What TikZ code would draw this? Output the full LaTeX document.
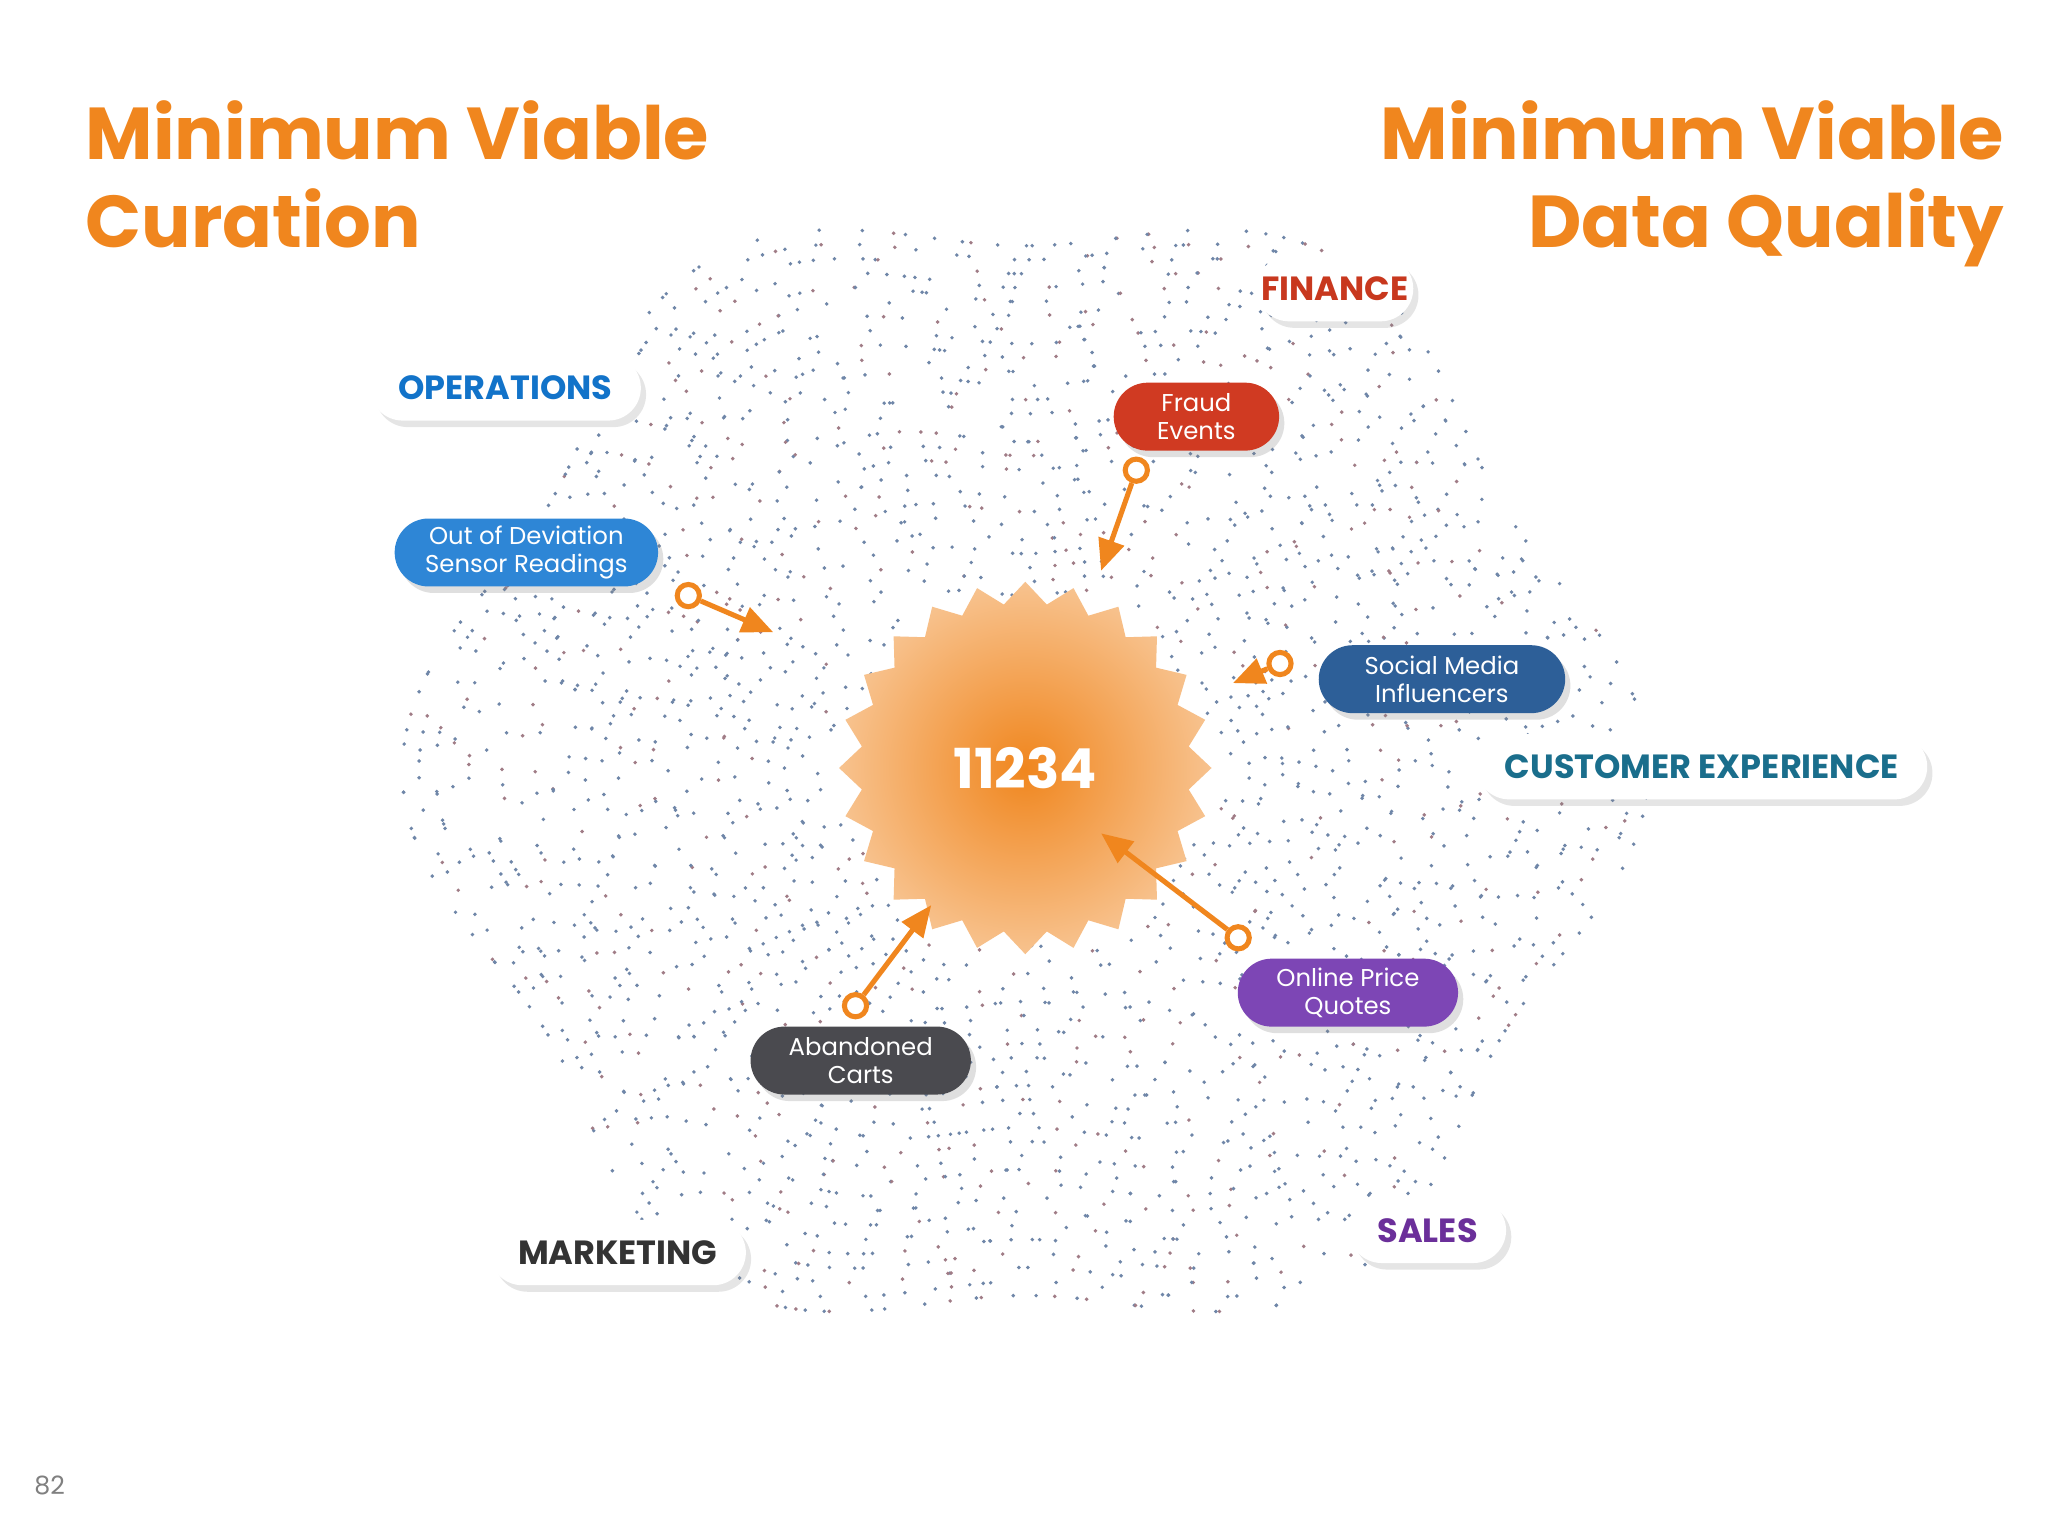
\documentclass[tikz,border=0pt]{standalone}
\usepackage{fontspec}
\setmainfont{Poppins}
\usetikzlibrary{shapes.geometric,shapes.misc,shadows,arrows.meta}
\definecolor{org}{HTML}{F0861E}
\definecolor{opb}{HTML}{1273C9}
\definecolor{fin}{HTML}{C8381E}
\definecolor{cx}{HTML}{1A6E8C}
\definecolor{sal}{HTML}{6B2F9A}
\definecolor{mk}{HTML}{333333}
\definecolor{pb}{HTML}{2E86D6}
\definecolor{pr}{HTML}{D03A22}
\definecolor{pd}{HTML}{2D5F98}
\definecolor{pp}{HTML}{7D46B5}
\definecolor{pg}{HTML}{4A4A4F}
\definecolor{dotA}{HTML}{6F86A8}
\definecolor{dotB}{HTML}{A07C86}
\tikzset{
 cat/.style={rounded rectangle,fill=white,minimum height=0.5cm,inner xsep=0.2cm,font=\bfseries\fontsize{7.3}{8}\selectfont,drop shadow={opacity=0.2,shadow xshift=0.04cm,shadow yshift=-0.05cm}},
 item/.style={rounded rectangle,minimum height=0.52cm,text=white,align=center,inner ysep=0.5pt,font=\fontsize{5.3}{6}\selectfont,drop shadow={opacity=0.25,shadow xshift=0.04cm,shadow yshift=-0.05cm}},
 arr/.style={draw=org,line width=1.1pt,-{Triangle[length=0.24cm,width=0.2cm]}},
 tailc/.style={circle,draw=org,line width=1.1pt,fill=white,inner sep=0pt,minimum size=0.17cm},
 ttl/.style={text=org,font=\bfseries\fontsize{16}{19.3}\selectfont,inner sep=0pt}
}
\begin{document}
\begin{tikzpicture}[x=0.01cm,y=-0.01cm]
\useasboundingbox[fill=white] (0,0) rectangle (1568,1176);
% dot field
\pgfmathsetseed{7}
\foreach \r in {150,162,...,460}{
 \pgfmathtruncatemacro{\n}{2*pi*\r/12}
 \pgfmathsetmacro{\da}{360/\n}
 \foreach \k in {1,...,\n}{
  \pgfmathsetmacro{\a}{\da*\k+rnd*5}
  \pgfmathsetmacro{\rr}{\r*(1+0.06*cos(6*\a))}
  \pgfmathsetmacro{\keep}{rnd}
  \ifdim\keep pt<0.62pt
   \pgfmathsetmacro{\cc}{rnd}
   \ifdim\cc pt<0.8pt
    \fill[dotA] ({785+\rr*cos(\a)},{590+0.95*\rr*sin(\a)}) circle (1.5);
   \else
    \fill[dotB] ({785+\rr*cos(\a)},{590+0.95*\rr*sin(\a)}) circle (1.5);
   \fi
  \fi
 }
}
% starburst
\node[star,star points=24,star point ratio=1.13,minimum size=2.85cm,inner sep=0pt,
 inner color=org,outer color=org!50,draw=none] (sun) at (785,588) {};
\node[text=white,font=\bfseries\fontsize{12}{13}\selectfont] (num) at (785,588) {11234};
% titles
\node[ttl,anchor=north west,align=left] (t1) at (65,76) {Minimum Viable\\Curation};
\node[ttl,anchor=north east,align=right] (t2) at (1535,76) {Minimum Viable\\Data Quality};
% categories
\node[cat,text=opb,minimum width=2.05cm] (ops) at (387,297) {OPERATIONS};
\node[cat,text=fin,minimum width=1.6cm] (fin) at (1022,221) {FINANCE};
\node[cat,text=cx,minimum width=3.1cm] (cx) at (1303,587) {CUSTOMER EXPERIENCE};
\node[cat,text=sal,minimum width=1.2cm] (sal) at (1093,942) {SALES};
\node[cat,text=mk,minimum width=1.9cm] (mk) at (473,959) {MARKETING};
% items
\node[item,fill=pb,minimum width=2.25cm] (odv) at (403,423) {Out of Deviation\\Sensor Readings};
\node[item,fill=pr,minimum width=1.5cm] (fe) at (916,319) {Fraud\\Events};
\node[item,fill=pd,minimum width=2.12cm] (smi) at (1104,520) {Social Media\\Influencers};
\node[item,fill=pp,minimum width=1.92cm] (opq) at (1032,760) {Online Price\\Quotes};
\node[item,fill=pg,minimum width=1.92cm] (ac) at (659,812) {Abandoned\\Carts};
% arrows
\node[tailc] (c1) at (527,456) {};
\node[tailc] (c2) at (870,360) {};
\node[tailc] (c3) at (980,508) {};
\node[tailc] (c4) at (948,718) {};
\node[tailc] (c5) at (655,770) {};
\coordinate (e1) at (592,484);
\coordinate (e2) at (843,437);
\coordinate (e3) at (944,523);
\coordinate (e4) at (843,638);
\coordinate (e5) at (713,693);
\draw[arr] (c1) -- (e1);
\draw[arr] (c2) -- (e2);
\draw[arr] (c3) -- (e3);
\draw[arr] (c4) -- (e4);
\draw[arr] (c5) -- (e5);
\node[text=gray,font=\fontsize{5.5}{6}\selectfont] (pg) at (38,1137) {82};
\end{tikzpicture}
\end{document}
